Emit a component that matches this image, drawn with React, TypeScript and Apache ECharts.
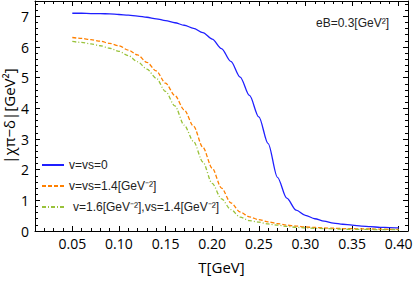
import React, { useEffect, useRef } from "react";
import * as echarts from "echarts";

const temps = [0.05, 0.06, 0.07, 0.08, 0.09, 0.10, 0.11, 0.12, 0.13, 0.14, 0.15, 0.16, 0.17, 0.18, 0.19, 0.20, 0.21, 0.22, 0.23, 0.24, 0.25, 0.26, 0.27, 0.28, 0.29, 0.30, 0.31, 0.32, 0.33, 0.34, 0.35, 0.36, 0.37, 0.38, 0.39, 0.40];

const blueVals = [7.10, 7.10, 7.09, 7.09, 7.08, 7.06, 7.04, 7.01, 6.97, 6.92, 6.86, 6.79, 6.71, 6.61, 6.47, 6.26, 5.95, 5.53, 5.02, 4.42, 3.72, 2.85, 1.75, 1.07, 0.68, 0.51, 0.40, 0.32, 0.26, 0.22, 0.19, 0.16, 0.14, 0.12, 0.11, 0.10];

const orangeVals = [6.31, 6.28, 6.24, 6.19, 6.12, 6.04, 5.90, 5.74, 5.50, 5.22, 4.82, 4.42, 3.95, 3.42, 2.73, 2.05, 1.40, 0.92, 0.62, 0.46, 0.37, 0.30, 0.24, 0.19, 0.16, 0.13, 0.115, 0.10, 0.09, 0.08, 0.075, 0.07, 0.065, 0.06, 0.055, 0.05];

const greenVals = [6.18, 6.15, 6.10, 6.04, 5.96, 5.86, 5.72, 5.52, 5.28, 4.98, 4.55, 4.08, 3.45, 2.92, 2.25, 1.55, 1.05, 0.70, 0.45, 0.34, 0.29, 0.23, 0.19, 0.15, 0.12, 0.10, 0.09, 0.08, 0.07, 0.06, 0.055, 0.05, 0.05, 0.045, 0.045, 0.04];

const seriesNames = ["v=vs=0", "v=vs=1.4[GeV⁻²]", "v=1.6[GeV⁻²],vs=1.4[GeV⁻²]"];

const xMajorTicks = [0.05, 0.10, 0.15, 0.20, 0.25, 0.30, 0.35, 0.40];
const xMinorTicks = [0.01, 0.02, 0.03, 0.04, 0.06, 0.07, 0.08, 0.09, 0.11, 0.12, 0.13, 0.14, 0.16, 0.17, 0.18, 0.19, 0.21, 0.22, 0.23, 0.24, 0.26, 0.27, 0.28, 0.29, 0.31, 0.32, 0.33, 0.34, 0.36, 0.37, 0.38, 0.39, 0.41];
const yMajorTicks = [0, 1, 2, 3, 4, 5, 6, 7];
const yMinorTicks = [0.2, 0.4, 0.6, 0.8, 1.2, 1.4, 1.6, 1.8, 2.2, 2.4, 2.6, 2.8, 3.2, 3.4, 3.6, 3.8, 4.2, 4.4, 4.6, 4.8, 5.2, 5.4, 5.6, 5.8, 6.2, 6.4, 6.6, 6.8, 7.2, 7.4];

const X_MIN = 0.01;
const X_MAX = 0.41;
const Y_MIN = 0;
const Y_MAX = 7.5;

const tickFont = "'Open Sans', 'DejaVu Sans', sans-serif";
const legendFont = "'Liberation Sans', Arial, sans-serif";

function pairs(vals: number[]) {
  return temps.map((t, i) => [t, vals[i]]);
}

export default function App() {
  const ref = useRef<HTMLDivElement>(null);
  useEffect(() => {
    if (!ref.current) return;
    const chart = echarts.init(ref.current, null, { renderer: "svg" });
    const lineCol = "#000";
    const majorX = (pos: string, labels: boolean) => ({
      type: "value",
      position: pos,
      min: X_MIN,
      max: X_MAX,
      axisLine: { show: true, onZero: false, lineStyle: { color: lineCol, width: 1 } },
      axisTick: { show: true, inside: true, length: 5, customValues: xMajorTicks, lineStyle: { color: lineCol, width: 1 } },
      axisLabel: labels
        ? { show: true, customValues: xMajorTicks, formatter: (v: number) => v.toFixed(2), fontSize: 14, color: "#000", fontFamily: tickFont, margin: 5 }
        : { show: false },
      splitLine: { show: false },
      ...(labels
        ? { name: "T[GeV]", nameLocation: "middle", nameGap: 28, nameMoveOverlap: false, nameTextStyle: { fontSize: 15, color: "#000", fontFamily: tickFont } }
        : {}),
    });
    const minorX = (pos: string) => ({
      type: "value",
      position: pos,
      min: X_MIN,
      max: X_MAX,
      axisLine: { show: false, onZero: false },
      axisTick: { show: true, inside: true, length: 3, customValues: xMinorTicks, lineStyle: { color: lineCol, width: 1 } },
      axisLabel: { show: false },
      splitLine: { show: false },
    });
    const majorY = (pos: string, labels: boolean) => ({
      type: "value",
      position: pos,
      min: Y_MIN,
      max: Y_MAX,
      axisLine: { show: true, onZero: false, lineStyle: { color: lineCol, width: 1 } },
      axisTick: { show: true, inside: true, length: 5, customValues: yMajorTicks, lineStyle: { color: lineCol, width: 1 } },
      axisLabel: labels
        ? { show: true, customValues: yMajorTicks, fontSize: 14, color: "#000", fontFamily: tickFont, margin: 6 }
        : { show: false },
      splitLine: { show: false },
      ...(labels
        ? { name: "|χπ−δ|[GeV²]", nameLocation: "middle", nameGap: 19, nameRotate: 90, nameMoveOverlap: false, nameTextStyle: { fontSize: 15, lineHeight: 15, color: "#000", fontFamily: tickFont } }
        : {}),
    });
    const minorY = (pos: string) => ({
      type: "value",
      position: pos,
      min: Y_MIN,
      max: Y_MAX,
      axisLine: { show: false, onZero: false },
      axisTick: { show: true, inside: true, length: 3, customValues: yMinorTicks, lineStyle: { color: lineCol, width: 1 } },
      axisLabel: { show: false },
      splitLine: { show: false },
    });

    chart.setOption({
      animation: false,
      backgroundColor: "#fff",
      grid: { left: 35, right: 7, top: 1, bottom: 50, containLabel: false, outerBoundsMode: "none" },
      xAxis: [majorX("bottom", true), majorX("top", false), minorX("bottom"), minorX("top")],
      yAxis: [majorY("left", true), majorY("right", false), minorY("left"), minorY("right")],
      legend: {
        show: true,
        orient: "vertical",
        left: 36,
        top: 154,
        itemWidth: 22,
        itemHeight: 8,
        itemGap: 9,
        data: seriesNames,
        itemStyle: { opacity: 0 },
        formatter: (name: string) => (name === seriesNames[2] ? `{p|${name}}` : name),
        textStyle: {
          fontSize: 12,
          color: "#222",
          fontFamily: legendFont,
          rich: { p: { fontSize: 12, color: "#222", fontFamily: legendFont, padding: [0, 0, 0, 4] } },
        },
      },
      graphic: [
        {
          type: "text",
          right: 26,
          top: 17,
          style: { text: "eB=0.3[GeV²]", fontSize: 12, fill: "#222", fontFamily: legendFont },
        },
      ],
      series: [
        {
          name: seriesNames[0],
          type: "line",
          xAxisIndex: 0,
          yAxisIndex: 0,
          data: pairs(blueVals),
          showSymbol: false,
          symbol: "none",
          smooth: 0.3,
          smoothMonotone: "x",
          lineStyle: { color: "#1f1fff", width: 1.3, type: "solid" },
          itemStyle: { color: "#1f1fff" },
        },
        {
          name: seriesNames[1],
          type: "line",
          xAxisIndex: 0,
          yAxisIndex: 0,
          data: pairs(orangeVals),
          showSymbol: false,
          symbol: "none",
          smooth: 0.3,
          smoothMonotone: "x",
          lineStyle: { color: "#ff8000", width: 1.3, type: [4, 2] },
          itemStyle: { color: "#ff8000" },
        },
        {
          name: seriesNames[2],
          type: "line",
          xAxisIndex: 0,
          yAxisIndex: 0,
          data: pairs(greenVals),
          showSymbol: false,
          symbol: "none",
          smooth: 0.3,
          smoothMonotone: "x",
          lineStyle: { color: "#99c23a", width: 1.3, type: [4, 2, 1, 2] },
          itemStyle: { color: "#99c23a" },
        },
      ],
    } as any);
    return () => chart.dispose();
  }, []);
  return (
    <div
      ref={ref}
      style={{ position: "fixed", left: 0, top: 0, width: 415, height: 281, background: "#fff" }}
    />
  );
}
